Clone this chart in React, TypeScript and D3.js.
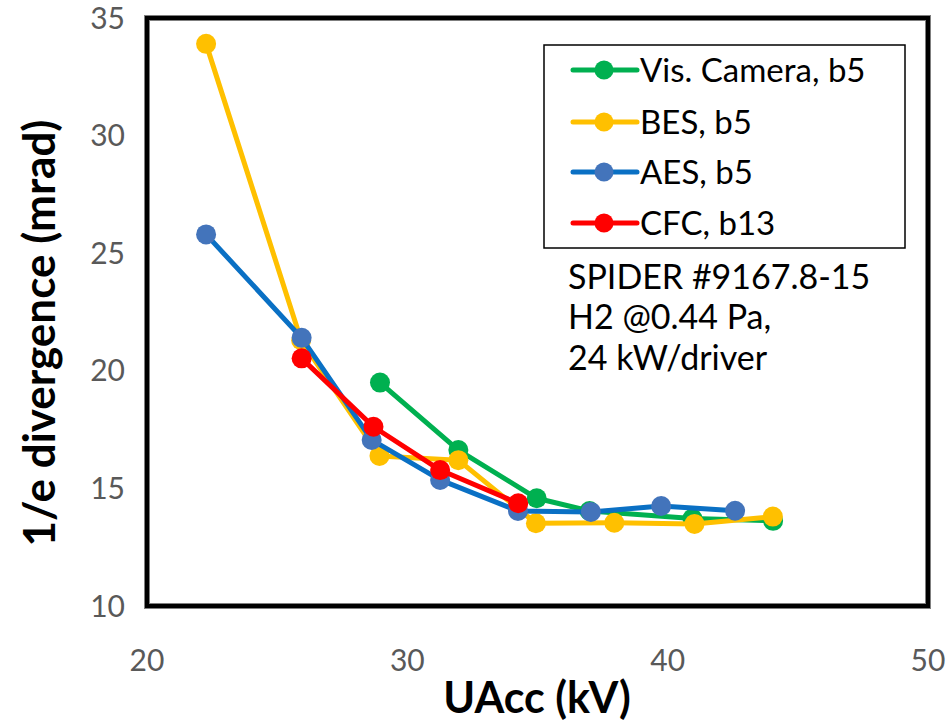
import React from "react";
import * as d3 from "d3";

// Beam divergence vs. acceleration voltage, SPIDER #9167.8-15
const seriesNames = ["Vis. Camera, b5", "BES, b5", "AES, b5", "CFC, b13"];
const lineColors = ["#00B050", "#FFC000", "#0A70C4", "#FF0000"];
const markerColors = ["#00B050", "#FFC000", "#4374BB", "#FF0000"];

const visCameraX = [28.95, 31.96, 34.97, 37.0, 40.95, 44.05];
const visCameraY = [19.5, 16.63, 14.58, 14.04, 13.72, 13.62];

const besX = [22.27, 25.92, 28.93, 31.96, 34.94, 37.95, 41.03, 44.04];
const besY = [33.9, 21.3, 16.38, 16.2, 13.52, 13.54, 13.49, 13.8];

const aesX = [22.27, 25.94, 28.63, 31.26, 34.25, 37.05, 39.75, 42.59];
const aesY = [25.8, 21.4, 17.06, 15.36, 14.04, 14.0, 14.25, 14.05];

const cfcX = [25.94, 28.7, 31.26, 34.26];
const cfcY = [20.53, 17.62, 15.78, 14.37];

const xTicks = [20, 30, 40, 50];
const yTicks = [10, 15, 20, 25, 30, 35];

const annotationLines = ["SPIDER #9167.8-15", "H2 @0.44 Pa,", "24 kW/driver"];

const W = 948;
const H = 724;
const plot = { left: 147, right: 928, top: 18, bottom: 606 };
const FONT = "Lato, 'Open Sans', sans-serif";

export default function App() {
  const x = d3.scaleLinear().domain([20, 50]).range([plot.left, plot.right]);
  const y = d3.scaleLinear().domain([10, 35]).range([plot.bottom, plot.top]);

  const series = [
    { xs: visCameraX, ys: visCameraY },
    { xs: besX, ys: besY },
    { xs: aesX, ys: aesY },
    { xs: cfcX, ys: cfcY },
  ].map((s, i) => ({
    name: seriesNames[i],
    line: lineColors[i],
    marker: markerColors[i],
    pts: s.xs.map((v, j) => [v, s.ys[j]] as [number, number]),
  }));

  const lineGen = d3
    .line<[number, number]>()
    .x((d) => x(d[0]))
    .y((d) => y(d[1]));

  const legend = { x: 544, y: 45, w: 361, h: 203, rowY: [70, 122, 172, 223] };

  return (
    <svg
      width={W}
      height={H}
      style={{ position: "absolute", left: 0, top: 0, background: "#fff" }}
      fontFamily={FONT}
    >
      <rect x={0} y={0} width={W} height={H} fill="#fff" />

      {/* plot frame */}
      <rect
        x={plot.left}
        y={plot.top}
        width={plot.right - plot.left}
        height={plot.bottom - plot.top}
        fill="none"
        stroke="#7f7f7f"
        strokeWidth={6}
      />
      <rect
        x={plot.left}
        y={plot.top}
        width={plot.right - plot.left}
        height={plot.bottom - plot.top}
        fill="none"
        stroke="#000"
        strokeWidth={4}
      />

      {/* tick labels */}
      {yTicks.map((t) => (
        <text
          key={"y" + t}
          x={125}
          y={y(t)}
          dy="0.35em"
          textAnchor="end"
          fontSize={30}
          fill="#595959"
        >
          {t}
        </text>
      ))}
      {xTicks.map((t) => (
        <text
          key={"x" + t}
          x={x(t)}
          y={660}
          dy="0.35em"
          textAnchor="middle"
          fontSize={30}
          fill="#595959"
        >
          {t}
        </text>
      ))}

      {/* axis titles */}
      <text
        x={537}
        y={698}
        dy="0.35em"
        textAnchor="middle"
        fontSize={43}
        fontWeight="bold"
        fill="#000"
      >
        UAcc (kV)
      </text>
      <text
        transform={`translate(40,333) rotate(-90)`}
        dy="0.35em"
        textAnchor="middle"
        fontSize={44}
        fontWeight="bold"
        fill="#000"
      >
        1/e divergence (mrad)
      </text>

      {/* series */}
      {series.map((s) => (
        <g key={s.name}>
          <path d={lineGen(s.pts) || ""} fill="none" stroke={s.line} strokeWidth={5} strokeLinejoin="round" />
          {s.pts.map((p, j) => (
            <circle key={j} cx={x(p[0])} cy={y(p[1])} r={10} fill={s.marker} />
          ))}
        </g>
      ))}

      {/* legend */}
      <rect
        x={legend.x}
        y={legend.y}
        width={legend.w}
        height={legend.h}
        fill="#fff"
        stroke="#000"
        strokeWidth={1.5}
      />
      {series.map((s, i) => (
        <g key={"lg" + i}>
          <line x1={573} x2={637} y1={legend.rowY[i]} y2={legend.rowY[i]} stroke={s.line} strokeWidth={5} strokeLinecap="round" />
          <circle cx={604} cy={legend.rowY[i]} r={9.5} fill={s.marker} />
          <text x={640} y={legend.rowY[i]} dy="0.35em" fontSize={33} fill="#000">
            {s.name}
          </text>
        </g>
      ))}

      {/* run annotation */}
      {annotationLines.map((t, i) => (
        <text key={"a" + i} x={568} y={277 + i * 40.5} dy="0.35em" fontSize={34} fill="#000">
          {t}
        </text>
      ))}
    </svg>
  );
}
